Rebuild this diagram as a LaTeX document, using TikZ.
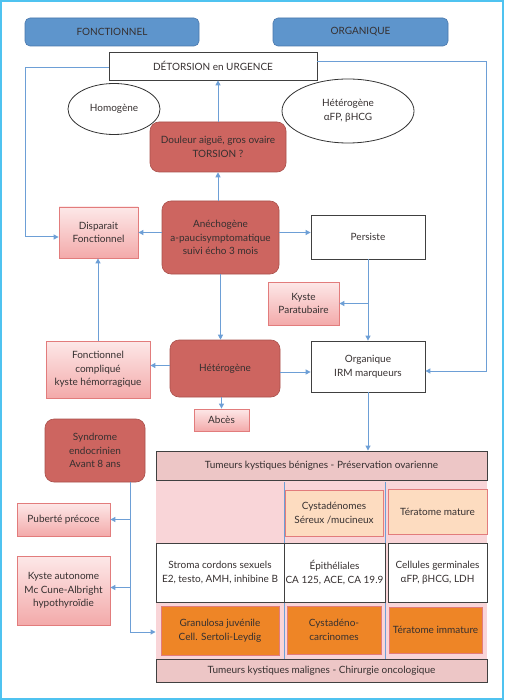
\documentclass[tikz,border=0pt]{standalone}
\usepackage{fontspec}
\setmainfont{Lato}
\usepackage{tikz}
\usetikzlibrary{shapes,positioning,arrows.meta,backgrounds}
\definecolor{cadre}{HTML}{4FC3F0}
\definecolor{bleu}{HTML}{5E95CC}
\definecolor{bleubord}{HTML}{4A78AC}
\definecolor{rouge}{HTML}{CD6560}
\definecolor{rougebord}{HTML}{A9504B}
\definecolor{rosehaut}{HTML}{FDE8E8}
\definecolor{rosebas}{HTML}{F3AAAA}
\definecolor{rosebord}{HTML}{E27C7C}
\definecolor{fleche}{HTML}{6D9FD6}
\definecolor{entete}{HTML}{EDC6C6}
\definecolor{fondrose}{HTML}{F9D5D8}
\definecolor{peche}{HTML}{FDDCC0}
\definecolor{orange}{HTML}{EE8526}
\definecolor{texte}{HTML}{363030}

\begin{document}
\begin{tikzpicture}[x=1pt,y=-1pt,
    every node/.style={font=\fontsize{10}{13.5}\selectfont,text=texte,align=center,inner sep=1pt},
    titre/.style={rectangle,rounded corners=5pt,fill=bleu,draw=bleubord,line width=0.6pt},
    blanc/.style={rectangle,fill=white,draw=black!75,line width=0.8pt},
    rouge/.style={rectangle,rounded corners=9pt,fill=rouge,draw=rougebord,line width=0.6pt},
    rose/.style={rectangle,top color=rosehaut,bottom color=rosebas,draw=rosebord,line width=0.8pt},
    ovale/.style={ellipse,draw=black!80,line width=0.8pt},
    bande/.style={rectangle,fill=entete,draw=black!75,line width=0.9pt,minimum width=331,minimum height=#1},
    peche/.style={rectangle,fill=peche,draw=rosebord,line width=0.8pt},
    cellule/.style={rectangle,fill=white,draw=black!75,line width=0.8pt,minimum height=59},
    orange/.style={rectangle,fill=orange,draw=rosebord,line width=0.8pt},
    arr/.style={draw=fleche,line width=1pt,-{Triangle[length=5pt,width=5pt]}},
    trait/.style={draw=fleche,line width=1pt}]
  % cadre de la figure
  \draw[cadre,line width=2pt,fill=white] (1,1) rectangle (503,699);
  \useasboundingbox (0,0) rectangle (504,700);

  \node[titre,minimum width=174,minimum height=28] (fonct) at (112,32) {FONCTIONNEL};
  \node[titre,minimum width=175,minimum height=28] (organ) at (360.5,32) {ORGANIQUE};
  \node[blanc,minimum width=208,minimum height=28] (detor) at (213,66) {DÉTORSION en URGENCE};
  \node[ovale,minimum width=92,minimum height=51] (homog) at (114,109) {Homogène};
  \node[ovale,minimum width=132,minimum height=64] (hetero) at (348,111) {Hétérogène\\αFP, βHCG};
  \node[rouge,minimum width=136,minimum height=50] (douleur) at (218,147) {Douleur aiguë, gros ovaire\\TORSION ?};
  \node[rouge,minimum width=117,minimum height=73] (anecho) at (220.5,237.5) {Anéchogène\\a-paucisymptomatique\\suivi écho 3 mois};
  \node[rose,minimum width=79,minimum height=51] (dispar) at (98.5,232.5) {Disparait\\Fonctionnel};
  \node[blanc,minimum width=114,minimum height=44] (persiste) at (368,237) {Persiste};
  \node[rose,minimum width=71,minimum height=43] (paratub) at (303.5,303.5) {Kyste\\Paratubaire};
  \node[rouge,minimum width=110,minimum height=57] (heterog) at (225,368.5) {Hétérogène};
  \node[rose,minimum width=104,minimum height=57] (fcompl) at (98,369.5) {Fonctionnel\\compliqué\\kyste hémorragique};
  \node[blanc,minimum width=114,minimum height=51] (organiq) at (368,366.5) {Organique\\IRM marqueurs};
  \node[rose,minimum width=55,minimum height=22] (abces) at (221.5,420) {Abcès};
  \node[rouge,minimum width=100,minimum height=63] (syndrome) at (95,450.5) {Syndrome\\endocrinien\\Avant 8 ans};
  \node[rose,minimum width=93,minimum height=33] (puberte) at (63.5,519.5) {Puberté précoce};
  \node[rose,minimum width=93,minimum height=69] (kystauto) at (63.5,590.5) {Kyste autonome\\Mc Cune-Albright\\hypothyroïdie};

  % tableau des tumeurs
  \fill[fondrose] (156,480) rectangle (487,659);
  \node[bande=29] (benin) at (321.5,465.5) {Tumeurs kystiques bénignes - Préservation ovarienne};
  \node[bande=23] (malin) at (321.5,670.5) {Tumeurs kystiques malignes - Chirurgie oncologique};
  \coordinate (col_1) at (284.5,482);
  \coordinate (col_2) at (385.5,482);
  \foreach \i in {1,2}{
    \draw[trait,line width=0.8pt] (col_\i) -- (col_\i |- malin.north);
  }
  \node[peche,minimum width=98,minimum height=46] (cysta) at (334,513) {Cystadénomes\\Séreux /mucineux};
  \node[peche,minimum width=99,minimum height=45] (teram) at (437.5,511.5) {Tératome mature};
  \node[cellule,minimum width=128] (stroma) at (220,572.5) {Stroma cordons sexuels\\E2, testo, AMH, inhibine B};
  \node[cellule,minimum width=101] (epith) at (334.5,572.5) {Épithéliales\\CA 125, ACE, CA 19.9};
  \node[cellule,minimum width=99] (germ) at (437.5,572.5) {Cellules germinales\\αFP, βHCG, LDH};
  \node[orange,minimum width=118,minimum height=49] (granu) at (220,630.5) {Granulosa juvénile\\Cell. Sertoli-Leydig};
  \node[orange,minimum width=94,minimum height=48] (cystc) at (334,630) {Cystadéno-\\carcinomes};
  \node[orange,minimum width=93,minimum height=46] (terai) at (435.5,630) {Tératome immature};

  % connecteurs
  \coordinate (gauche_1) at (25,68);
  \coordinate (gauche_2) at (25,237);
  \coordinate (droite_1) at (486,62);
  \coordinate (droite_2) at (486,371);
  \coordinate (synd) at (130,632);
  \draw[arr] (detor.west |- gauche_1) -- (gauche_1) -- (gauche_2) -- (dispar.west |- gauche_2);
  \draw[arr] (detor.east |- droite_1) -- (droite_1) -- (droite_2) -- (organiq.east |- droite_2);
  \draw[arr] (douleur.north) -- (douleur.north |- detor.south);
  \draw[arr] (anecho.north -| douleur.south) -- (douleur.south);
  \draw[arr] (anecho.west |- dispar.east) -- (dispar.east);
  \draw[arr] (dispar.east -| anecho.east) -- (dispar.east -| persiste.west);
  \draw[arr] (persiste.south) -- (organiq.north);
  \draw[arr] (persiste.south |- paratub.east) -- (paratub.east);
  \draw[arr] (anecho.south) -- (anecho.south |- heterog.north);
  \draw[arr] ([yshift=3]heterog.west) -- ([yshift=3]heterog.west -| fcompl.east);
  \draw[arr] (fcompl.north) -- (fcompl.north |- dispar.south);
  \draw[arr] ([yshift=-3.5]heterog.east) -- ([yshift=-3.5]heterog.east -| organiq.west);
  \draw[arr] (heterog.south -| abces.north) -- (abces.north);
  \draw[arr] (organiq.south) -- (organiq.south |- benin.north);
  \draw[arr] (syndrome.south -| synd) -- (synd) -- (synd -| benin.west);
  \draw[arr] (synd |- puberte.east) -- (puberte.east);
  \draw[arr] ([yshift=3]synd |- kystauto.east) -- ([yshift=3]kystauto.east);
\end{tikzpicture}
\end{document}
